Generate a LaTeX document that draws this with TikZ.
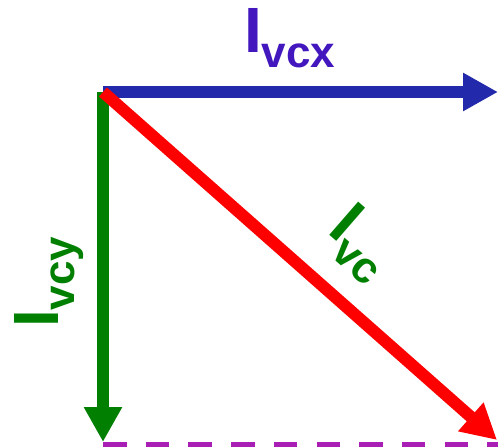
\documentclass[tikz,border=0pt]{standalone}
\usepackage{fontspec}
\setmainfont{Liberation Sans}
\usetikzlibrary{arrows.meta,positioning}
\definecolor{vecblue}{HTML}{2229AA}
\definecolor{lblblue}{HTML}{4317BE}
\definecolor{vecgreen}{HTML}{007F00}
\definecolor{vecred}{HTML}{FF0000}
\definecolor{projmag}{HTML}{A91EB4}
\newcommand{\curr}[1]{I\raisebox{-16pt}{\fontsize{44pt}{44pt}\selectfont #1}}

\begin{document}
\begin{tikzpicture}[x=1pt, y=-1pt,
  vec/.style={line width=12pt, -{Triangle[length=35pt, width=36pt]}},
  lbl/.style={inner sep=0pt, font=\bfseries\fontsize{64pt}{64pt}\selectfont},
  proj/.style={line width=5pt, dash pattern=on 23.5pt off 19.2pt},
]
  \useasboundingbox (0,0) rectangle (498,447);

  \coordinate (o) at (103,92);
  \coordinate (xend) at (498,92);
  \coordinate (yend) at (103,442);
  \coordinate (cend) at (497,440);
  \coordinate (pl) at (103,444);
  \coordinate (pr) at (498,444);

  % Projection
  \draw[proj, projmag] (pl) -- (pr);

  % Components
  \draw[vec, vecblue] (o) -- (xend);
  \draw[vec, vecgreen] (o) -- (yend);
  \draw[vec, vecred] (o) -- (cend);

  % Labels
  \node[lbl, lblblue, anchor=base west] (ix) at (244,52) {\curr{vcx}};
  \node[lbl, vecgreen, anchor=base west, rotate=90] (iy) at (58,328) {\curr{vcy}};
  \node[lbl, vecgreen, anchor=base west, rotate=-41] (ic) at (326,232) {\curr{vc}};
\end{tikzpicture}
\end{document}
